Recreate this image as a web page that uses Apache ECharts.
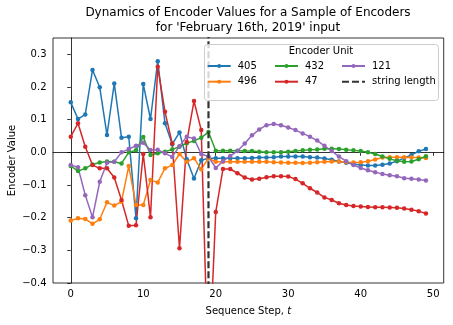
<!DOCTYPE html>
<html>
<head>
<meta charset="utf-8">
<script src="https://cdn.jsdelivr.net/npm/echarts@6/dist/echarts.min.js"></script>
<style>html,body{margin:0;padding:0;background:#fff;}#c{width:453px;height:325px;}</style>
</head>
<body>
<div id="c"></div>
<script>
const steps = [0,1,2,3,4,5,6,7,8,9,10,11,12,13,14,15,16,17,18,19,20,21,22,23,24,25,26,27,28,29,30,31,32,33,34,35,36,37,38,39,40,41,42,43,44,45,46,47,48,49];
const unit405 = [0.153,0.102,0.116,0.252,0.199,0.053,0.211,0.045,0.048,-0.202,0.209,0.102,0.279,0.089,0.025,0.061,-0.021,-0.080,-0.024,-0.018,-0.018,-0.018,-0.018,-0.018,
  -0.018,-0.017,-0.016,-0.016,-0.015,-0.013,-0.013,-0.013,-0.013,-0.015,-0.016,-0.019,-0.023,-0.028,-0.032,-0.036,-0.039,-0.040,-0.040,-0.038,-0.034,-0.027,-0.017,-0.008,0.003,0.010];
const unit496 = [-0.209,-0.202,-0.204,-0.219,-0.205,-0.153,-0.163,-0.151,-0.042,-0.161,-0.161,-0.085,-0.092,-0.049,-0.039,-0.005,-0.029,-0.018,-0.052,-0.018,-0.029,-0.029,-0.029,-0.029,
  -0.029,-0.029,-0.029,-0.029,-0.030,-0.031,-0.032,-0.032,-0.033,-0.032,-0.030,-0.029,-0.028,-0.028,-0.030,-0.031,-0.030,-0.027,-0.022,-0.016,-0.015,-0.015,-0.015,-0.016,-0.016,-0.017];
const unit432 = [-0.042,-0.057,-0.049,-0.037,-0.031,-0.028,-0.029,-0.034,0.000,0.006,0.047,-0.008,-0.003,0.002,0.009,0.017,0.028,0.035,0.045,0.062,0.005,0.005,0.005,0.005,
  0.004,0.004,0.002,0.000,0.000,0.000,0.002,0.004,0.006,0.008,0.009,0.011,0.011,0.010,0.008,0.006,0.004,0.000,-0.005,-0.013,-0.020,-0.026,-0.029,-0.028,-0.021,-0.012];
const unit47 = [0.048,0.089,0.017,-0.039,-0.049,-0.049,-0.077,-0.146,-0.225,-0.223,-0.005,-0.199,0.262,0.124,0.027,-0.294,0.032,0.157,0.068,-0.700,-0.183,-0.051,-0.051,-0.064,
  -0.077,-0.083,-0.081,-0.076,-0.073,-0.073,-0.074,-0.082,-0.095,-0.110,-0.123,-0.138,-0.146,-0.156,-0.161,-0.164,-0.166,-0.167,-0.168,-0.168,-0.169,-0.170,-0.172,-0.176,-0.180,-0.187];
const unit121 = [-0.039,-0.046,-0.131,-0.199,-0.090,-0.032,-0.029,0.000,0.010,0.020,0.029,0.007,0.008,-0.003,-0.014,0.019,0.048,0.042,-0.005,-0.013,-0.048,-0.027,-0.011,0.004,
  0.027,0.052,0.070,0.083,0.087,0.083,0.076,0.068,0.058,0.048,0.036,0.020,0.004,-0.013,-0.027,-0.039,-0.048,-0.055,-0.061,-0.066,-0.070,-0.073,-0.079,-0.081,-0.083,-0.086];
const stringLength = 19;
const unitNames = ['405','496','432','47','121'];
const unitColors = ['#1f77b4','#ff7f0e','#2ca02c','#d62728','#9467bd'];
const unitValues = [unit405, unit496, unit432, unit47, unit121];
const xTicks = [0,10,20,30,40,50];
const yTicks = [-0.4,-0.3,-0.2,-0.1,0.0,0.1,0.2,0.3];

const FONT = 'DejaVu Sans';
const chart = echarts.init(document.getElementById('c'), null, {renderer:'canvas'});

const series = unitNames.map((n,k)=>({
  name:n, type:'line',
  data: steps.map((s,i)=>[s, unitValues[k][i]]),
  symbol:'circle', symbolSize:4.5, showSymbol:true,
  itemStyle:{color:unitColors[k]},
  lineStyle:{color:unitColors[k], width:1.5},
  emphasis:{disabled:true}, clip:true, z:2
}));
series.push({
  name:'string length', type:'line',
  data:[[stringLength,-0.6],[stringLength,0.6]],
  symbol:'none', clip:true,
  itemStyle:{color:'#333'},
  lineStyle:{color:'#333', width:2.2, type:[7,3]},
  emphasis:{disabled:true}, z:3
});

const legendCommon = {
  orient:'vertical', top:61, itemWidth:23, itemHeight:5, itemGap:5.7,
  textStyle:{fontFamily:FONT, fontSize:10, color:'#000', lineHeight:10, padding:[0,0,0,2]},
  selectedMode:false, z:60, padding:0
};

chart.setOption({
  animation:false,
  backgroundColor:'#fff',
  grid:{left:53, right:9.3, top:38, bottom:42, show:true, borderColor:'#000', borderWidth:0.8,
    backgroundColor:'transparent', containLabel:false, outerBoundsMode:'none'},
  xAxis:{
    type:'value', min:-2.45, max:51.45,
    axisLine:{show:true, lineStyle:{color:'#000', width:0.8}},
    axisTick:{show:true, length:3.5, lineStyle:{color:'#000', width:0.8}, customValues:xTicks},
    axisLabel:{fontFamily:FONT, fontSize:10, color:'#000', margin:6.5, customValues:xTicks},
    splitLine:{show:false},
    name:'Sequence Step, {i|t}', nameLocation:'middle', nameGap:23, nameMoveOverlap:false,
    nameTextStyle:{fontFamily:FONT, fontSize:10, color:'#000', rich:{i:{fontFamily:FONT, fontSize:10, fontStyle:'italic', color:'#000'}}}
  },
  yAxis:{
    type:'value', min:-0.4, max:0.35,
    axisLine:{show:true, lineStyle:{color:'#000', width:0.8}},
    axisTick:{show:true, length:3.5, lineStyle:{color:'#000', width:0.8}, customValues:yTicks},
    axisLabel:{fontFamily:FONT, fontSize:10, color:'#000', margin:6.5, customValues:yTicks,
      formatter:v=>(v< -1e-9?'\u2212':'')+Math.abs(v).toFixed(1)},
    splitLine:{show:false},
    name:'Encoder Value', nameLocation:'middle', nameGap:36, nameMoveOverlap:false,
    nameTextStyle:{fontFamily:FONT, fontSize:10, color:'#000'}
  },
  legend:[
    Object.assign({left:206.7, data:['405','496']}, legendCommon),
    Object.assign({left:274, data:['432','47']}, legendCommon),
    Object.assign({left:341, data:['121',{name:'string length', itemStyle:{color:'transparent', borderWidth:0}}]}, legendCommon)
  ],
  graphic:[
    {type:'text', x:248, y:6.5, z:50, style:{text:"Dynamics of Encoder Values for a Sample of Encoders", fontFamily:FONT, fontSize:12, fill:'#000', textAlign:'center', textVerticalAlign:'top'}},
    {type:'text', x:248, y:21.5, z:50, style:{text:"for 'February 16th, 2019' input", fontFamily:FONT, fontSize:12, fill:'#000', textAlign:'center', textVerticalAlign:'top'}},
    {type:'rect', z:50, shape:{x:204.5, y:44.5, width:234, height:56, r:3}, style:{fill:'rgba(255,255,255,0.8)', stroke:'#cccccc', lineWidth:1}},
    {type:'text', x:321, y:46, z:51, style:{text:'Encoder Unit', fontFamily:FONT, fontSize:10, fill:'#000', textAlign:'center', textVerticalAlign:'top'}}
  ],
  series:series
});
</script>
</body>
</html>
